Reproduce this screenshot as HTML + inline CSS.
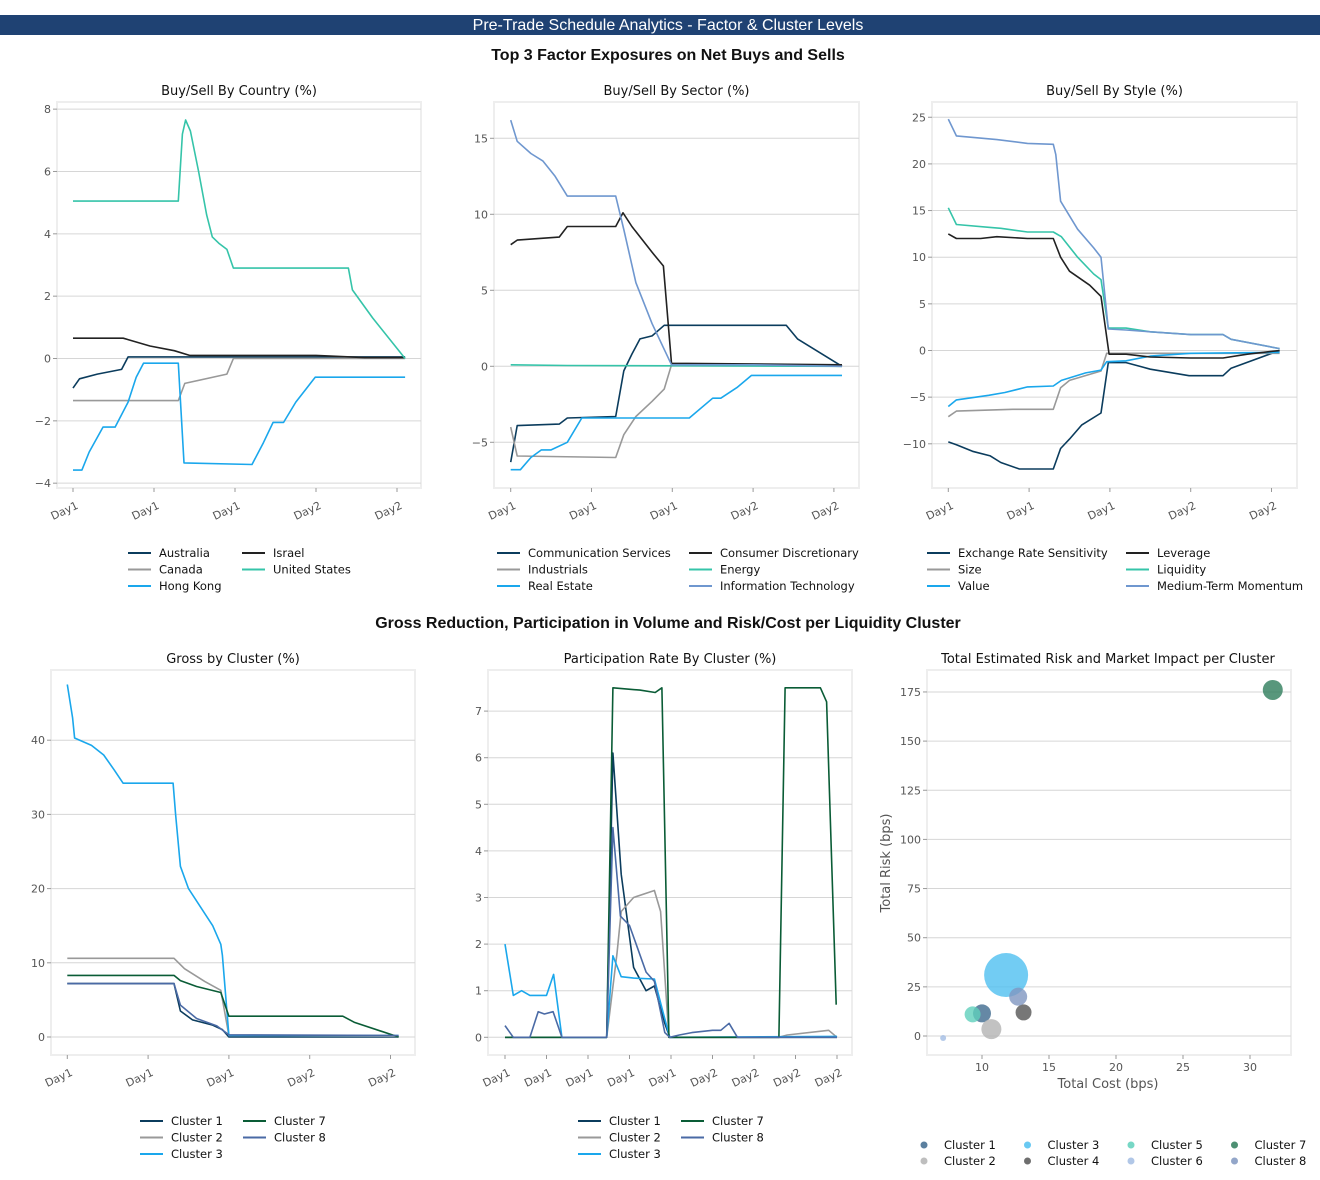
<!DOCTYPE html>
<html><head><meta charset="utf-8"><title>Pre-Trade Schedule Analytics</title>
<style>
html,body{margin:0;padding:0;background:#fff;}
svg{display:block;font-family:"DejaVu Sans","Liberation Sans",sans-serif;}
.tick{font-size:11px;fill:#555;}
.ttl{font-size:13px;fill:#111;}
.leg{font-size:11.5px;fill:#111;}
</style></head>
<body>
<svg id="root" width="1320" height="1180" viewBox="0 0 1320 1180" xmlns="http://www.w3.org/2000/svg">
<rect x="0" y="15" width="1320" height="20" fill="#1f4273"/>
<text x="668" y="30" text-anchor="middle" font-family="Liberation Sans, sans-serif" font-size="16" fill="#fff">Pre-Trade Schedule Analytics - Factor &amp; Cluster Levels</text>
<text x="668" y="60" text-anchor="middle" font-family="Liberation Sans, sans-serif" font-size="16" font-weight="bold" fill="#111">Top 3 Factor Exposures on Net Buys and Sells</text>
<text x="668" y="628" text-anchor="middle" font-family="Liberation Sans, sans-serif" font-size="16" font-weight="bold" fill="#111">Gross Reduction, Participation in Volume and Risk/Cost per Liquidity Cluster</text>
</svg>
<script>
// ===== Country =====
const countryTicks = ["Day1","Day1","Day1","Day2","Day2"];
const countryYTicks = [8,6,4,2,0,-2,-4];
const ctyAustralia_t = [0,0.08,0.3,0.6,0.68,4.1];
const ctyAustralia_v = [-0.95,-0.65,-0.5,-0.35,0.05,0.05];
const ctyCanada_t = [0,1.3,1.38,1.9,1.98,4.1];
const ctyCanada_v = [-1.35,-1.35,-0.8,-0.5,0,0];
const ctyHK_t = [0,0.11,0.2,0.37,0.52,0.6,0.68,0.78,0.87,1.3,1.37,2.21,2.35,2.47,2.6,2.75,2.9,2.99,4.1];
const ctyHK_v = [-3.58,-3.58,-3.0,-2.2,-2.2,-1.8,-1.4,-0.6,-0.15,-0.15,-3.35,-3.4,-2.7,-2.05,-2.05,-1.4,-0.9,-0.6,-0.6];
const ctyIsrael_t = [0,0.62,0.95,1.25,1.44,3.0,3.6,4.1];
const ctyIsrael_v = [0.65,0.65,0.4,0.25,0.1,0.1,0.03,0.03];
const ctyUS_t = [0,1.3,1.35,1.39,1.45,1.55,1.65,1.72,1.8,1.9,1.98,3.4,3.45,3.7,4.1];
const ctyUS_v = [5.05,5.05,7.2,7.65,7.3,6.0,4.6,3.9,3.7,3.5,2.9,2.9,2.2,1.3,0];
// ===== Sector =====
const sectorYTicks = [15,10,5,0,-5];
const secComm_t = [0,0.08,0.6,0.7,1.3,1.4,1.5,1.6,1.75,1.9,3.41,3.55,4.1];
const secComm_v = [-6.3,-3.9,-3.8,-3.4,-3.3,-0.3,0.8,1.8,2.0,2.7,2.7,1.8,0];
const secCons_t = [0,0.08,0.6,0.7,1.3,1.39,1.5,1.75,1.89,1.99,4.1];
const secCons_v = [8.0,8.3,8.5,9.2,9.2,10.1,9.2,7.5,6.6,0.2,0.1];
const secInd_t = [0,0.08,1.3,1.4,1.55,1.75,1.9,1.99,4.1];
const secInd_v = [-4.0,-5.9,-6.0,-4.5,-3.3,-2.3,-1.5,0.1,0];
const secEnergy_t = [0,0.7,4.1];
const secEnergy_v = [0.1,0.05,0];
const secRE_t = [0,0.12,0.25,0.38,0.5,0.7,0.88,2.21,2.5,2.6,2.8,2.98,4.1];
const secRE_v = [-6.8,-6.8,-6.0,-5.5,-5.5,-5.0,-3.4,-3.4,-2.1,-2.1,-1.4,-0.6,-0.6];
const secIT_t = [0,0.08,0.25,0.4,0.55,0.7,1.3,1.4,1.55,1.75,1.99,3.0,4.1];
const secIT_v = [16.2,14.8,14.0,13.5,12.5,11.2,11.2,9.0,5.5,2.8,0.1,0.1,0];
// ===== Style =====
const styleYTicks = [25,20,15,10,5,0,-5,-10];
const stERS_t = [0,0.1,0.3,0.52,0.65,0.88,1.3,1.39,1.5,1.65,1.89,1.98,2.2,2.5,2.98,3.4,3.5,4.1];
const stERS_v = [-9.8,-10.1,-10.8,-11.3,-12,-12.7,-12.7,-10.5,-9.5,-8.0,-6.7,-1.3,-1.3,-2.0,-2.7,-2.7,-1.9,0];
const stSize_t = [0,0.1,0.8,1.3,1.39,1.5,1.89,1.96,4.1];
const stSize_v = [-7.1,-6.5,-6.3,-6.3,-4.0,-3.2,-2.2,-0.3,-0.3];
const stValue_t = [0,0.1,0.5,0.7,0.98,1.3,1.4,1.7,1.89,1.96,2.2,2.5,3.0,4.1];
const stValue_v = [-6.0,-5.3,-4.8,-4.5,-3.9,-3.8,-3.2,-2.4,-2.1,-1.2,-1.1,-0.6,-0.3,-0.2];
const stLev_t = [0,0.1,0.4,0.6,0.98,1.3,1.39,1.5,1.75,1.89,1.99,2.2,2.5,3.0,3.4,3.7,4.1];
const stLev_v = [12.5,12.0,12.0,12.2,12.0,12.0,10.0,8.5,7.0,5.8,-0.4,-0.4,-0.7,-0.8,-0.8,-0.4,0];
const stLiq_t = [0,0.1,0.5,0.65,0.98,1.3,1.4,1.6,1.8,1.89,1.98,2.2,2.5,3.0,3.4,3.5,4.1];
const stLiq_v = [15.3,13.5,13.2,13.1,12.7,12.7,12.2,10.0,8.2,7.6,2.4,2.4,2.0,1.7,1.7,1.2,0.2];
const stMTM_t = [0,0.1,0.6,0.98,1.3,1.33,1.39,1.6,1.8,1.89,1.98,2.2,2.5,3.0,3.4,3.5,4.1];
const stMTM_v = [24.8,23.0,22.6,22.2,22.1,21.0,16.0,13.0,11.0,10.0,2.3,2.2,2.0,1.7,1.7,1.2,0.2];
// ===== Gross =====
const grossYTicks = [40,30,20,10,0];
const grC1_t = [0,1.32,1.4,1.55,1.8,1.92,2.0,4.1];
const grC1_v = [7.2,7.2,3.5,2.3,1.6,1.0,0,0];
const grC2_t = [0,1.32,1.45,1.7,1.9,2.0,4.1];
const grC2_v = [10.6,10.6,9.2,7.5,6.3,0.2,0.1];
const grC3_t = [0,0.066,0.09,0.3,0.45,0.58,0.69,1.31,1.34,1.4,1.5,1.8,1.9,1.92,2.0,4.1];
const grC3_v = [47.5,43,40.3,39.3,38,36,34.2,34.2,30,23,20,15,12.5,11,0.2,0.2];
const grC7_t = [0,1.32,1.4,1.6,1.9,2.0,3.41,3.55,4.1];
const grC7_v = [8.3,8.3,7.6,6.8,6.0,2.8,2.8,2.0,0];
const grC8_t = [0,1.32,1.4,1.6,1.85,2.0,4.1];
const grC8_v = [7.2,7.2,4.3,2.5,1.5,0.3,0.2];
// ===== Participation =====
const partTicks = ["Day1","Day1","Day1","Day1","Day1","Day2","Day2","Day2","Day2"];
const partYTicks = [7,6,5,4,3,2,1,0];
const ptC1_t = [0,2.45,2.6,2.8,3.1,3.4,3.6,3.85,3.97,8];
const ptC1_v = [0,0,6.1,3.5,1.5,1.0,1.1,0.3,0,0];
const ptC2_t = [0,2.45,2.7,2.8,3.1,3.6,3.75,3.95,6.6,6.8,7.8,8];
const ptC2_v = [0,0,1.8,2.7,3.0,3.15,2.7,0,0,0.05,0.15,0];
const ptC3_t = [0,0.2,0.4,0.6,1.0,1.17,1.37,2.45,2.6,2.8,3.1,3.6,3.82,3.97,8];
const ptC3_v = [2.0,0.9,1.0,0.9,0.9,1.35,0,0,1.75,1.3,1.27,1.25,0.5,0,0.02];
const ptC7_t = [0,2.45,2.6,3.25,3.62,3.78,3.95,6.6,6.75,7.6,7.75,7.98];
const ptC7_v = [0,0,7.5,7.45,7.4,7.5,0,0,7.5,7.5,7.2,0.7];
const ptC8_t = [0,0.2,0.6,0.8,0.95,1.16,1.37,2.45,2.6,2.78,3.0,3.4,3.6,3.85,3.97,4.2,4.5,5.0,5.2,5.4,5.6,8];
const ptC8_v = [0.25,0,0,0.55,0.5,0.55,0,0,4.5,2.6,2.4,1.4,1.2,0.1,0,0.05,0.1,0.15,0.15,0.3,0,0];
// ===== Scatter =====
const scLabels = ["Cluster 1","Cluster 2","Cluster 3","Cluster 4","Cluster 5","Cluster 6","Cluster 7","Cluster 8"];
const scCost = [10.0,10.7,11.8,13.1,9.3,7.1,31.7,12.7];
const scRisk = [11.5,3.5,31,12,11,-1,176,20];
const scSize = [9,10,22,8,8,3,10,9];
const scXTicks = [10,15,20,25,30];
const scYTicks = [175,150,125,100,75,50,25,0];

const NS = "http://www.w3.org/2000/svg";
const root = document.getElementById("root");
function mk(tag, attrs, parent, text){
  const e = document.createElementNS(NS, tag);
  for (const k in attrs) e.setAttribute(k, attrs[k]);
  if (text !== undefined) e.textContent = text;
  (parent || root).appendChild(e);
  return e;
}
const COL = {navy:"#0b3c5d", gray:"#999999", lblue:"#1aa7ec", black:"#222222", teal:"#35c4a9", itblue:"#6f97cf", green:"#0a5c36", c8:"#4a6aa5"};

function lineChart(cfg, series, legend){
  const g = mk("g", {});
  
  
  const fr = mk("rect", {x:cfg.fx, y:cfg.fy, width:cfg.fw, height:cfg.fh, fill:"#fff", stroke:"#eee", "stroke-width":2}, g);
  
  
  const t = mk("text", {x:cfg.fx+cfg.fw/2, y:cfg.fy-7, "text-anchor":"middle", class:"ttl"}, g, cfg.title);
  
  
  const X = v => cfg.x0 + v*cfg.step;
  const Y = v => cfg.y0 - v*cfg.ppu;
  cfg.yticks.forEach(v=>{
    mk("line", {x1:cfg.fx, x2:cfg.fx+cfg.fw, y1:Y(v), y2:Y(v), stroke:"#d6d6d6", "stroke-width":1}, g);
    mk("line", {x1:cfg.fx-4, x2:cfg.fx, y1:Y(v), y2:Y(v), stroke:"#999", "stroke-width":1}, g);
    const lb = mk("text", {x:cfg.fx-6, y:Y(v)+4, "text-anchor":"end", class:"tick"}, g, String(v).replace("-","\u2212"));
    
    
  });
  cfg.xticks.forEach((s,i)=>{
    const x = X(i);
    mk("line", {x1:x, x2:x, y1:cfg.fy+cfg.fh, y2:cfg.fy+cfg.fh+4, stroke:"#999", "stroke-width":1}, g);
    const lb = mk("text", {x:x+6, y:cfg.fy+cfg.fh+20, "text-anchor":"end", class:"tick", transform:`rotate(-25 ${x+6} ${cfg.fy+cfg.fh+20})`}, g, s);
    
    
  });
  series.forEach(s=>{
    const d = s.t.map((tv,i)=>(i?"L":"M")+X(tv).toFixed(1)+","+Y(s.v[i]).toFixed(1)).join(" ");
    const p = mk("path", {d:d, fill:"none", stroke:s.c, "stroke-width":1.6, "stroke-linejoin":"round"}, g);
    
    
  });
  legend.items.forEach((it,i)=>{
    const col = i < legend.rows ? 0 : 1;
    const row = col ? i - legend.rows : i;
    const sx = legend.cx[col], y = legend.y + row*16.5;
    const lg = mk("g", {}, g);
    
    
    mk("line", {x1:sx, x2:sx+23, y1:y, y2:y, stroke:it.c, "stroke-width":2}, lg);
    mk("text", {x:sx+31, y:y+4, class:"leg"}, lg, it.n);
  });
}

const dayTicks = countryTicks;
// Country
{
  const S = [
    {n:"Australia",t:ctyAustralia_t,v:ctyAustralia_v,c:COL.navy},
    {n:"Canada",t:ctyCanada_t,v:ctyCanada_v,c:COL.gray},
    {n:"Hong Kong",t:ctyHK_t,v:ctyHK_v,c:COL.lblue},
    {n:"Israel",t:ctyIsrael_t,v:ctyIsrael_v,c:COL.black},
    {n:"United States",t:ctyUS_t,v:ctyUS_v,c:COL.teal}];
  lineChart({name:"country-chart",title:"Buy/Sell By Country (%)",fx:57,fy:102,fw:364,fh:386,x0:73,step:81,y0:358.5,ppu:31.17,yticks:countryYTicks,xticks:dayTicks},
    S.slice(0), {items:S, rows:3, cx:[128,242], y:553});
}
// Sector
{
  const S = [
    {n:"Communication Services",t:secComm_t,v:secComm_v,c:COL.navy},
    {n:"Industrials",t:secInd_t,v:secInd_v,c:COL.gray},
    {n:"Real Estate",t:secRE_t,v:secRE_v,c:COL.lblue},
    {n:"Consumer Discretionary",t:secCons_t,v:secCons_v,c:COL.black},
    {n:"Energy",t:secEnergy_t,v:secEnergy_v,c:COL.teal},
    {n:"Information Technology",t:secIT_t,v:secIT_v,c:COL.itblue}];
  lineChart({name:"sector-chart",title:"Buy/Sell By Sector (%)",fx:494,fy:102,fw:365,fh:386,x0:510.7,step:80.8,y0:366.3,ppu:15.2,yticks:sectorYTicks,xticks:dayTicks},
    S, {items:S, rows:3, cx:[497,689], y:553});
}
// Style
{
  const S = [
    {n:"Exchange Rate Sensitivity",t:stERS_t,v:stERS_v,c:COL.navy},
    {n:"Size",t:stSize_t,v:stSize_v,c:COL.gray},
    {n:"Value",t:stValue_t,v:stValue_v,c:COL.lblue},
    {n:"Leverage",t:stLev_t,v:stLev_v,c:COL.black},
    {n:"Liquidity",t:stLiq_t,v:stLiq_v,c:COL.teal},
    {n:"Medium-Term Momentum",t:stMTM_t,v:stMTM_v,c:COL.itblue}];
  lineChart({name:"style-chart",title:"Buy/Sell By Style (%)",fx:932,fy:102,fw:365,fh:386,x0:948.3,step:80.8,y0:350.5,ppu:9.33,yticks:styleYTicks,xticks:dayTicks},
    S, {items:S, rows:3, cx:[927,1126], y:553});
}
// Gross
{
  const S = [
    {n:"Cluster 1",t:grC1_t,v:grC1_v,c:COL.navy},
    {n:"Cluster 2",t:grC2_t,v:grC2_v,c:COL.gray},
    {n:"Cluster 3",t:grC3_t,v:grC3_v,c:COL.lblue},
    {n:"Cluster 7",t:grC7_t,v:grC7_v,c:COL.green},
    {n:"Cluster 8",t:grC8_t,v:grC8_v,c:COL.c8}];
  lineChart({name:"gross-chart",title:"Gross by Cluster (%)",fx:51,fy:670,fw:364,fh:385,x0:67.3,step:80.8,y0:1037,ppu:7.42,yticks:grossYTicks,xticks:dayTicks},
    S, {items:S, rows:3, cx:[140,243], y:1121});
}
// Participation
{
  const S = [
    {n:"Cluster 1",t:ptC1_t,v:ptC1_v,c:COL.navy},
    {n:"Cluster 2",t:ptC2_t,v:ptC2_v,c:COL.gray},
    {n:"Cluster 3",t:ptC3_t,v:ptC3_v,c:COL.lblue},
    {n:"Cluster 7",t:ptC7_t,v:ptC7_v,c:COL.green},
    {n:"Cluster 8",t:ptC8_t,v:ptC8_v,c:COL.c8}];
  lineChart({name:"participation-chart",title:"Participation Rate By Cluster (%)",fx:488,fy:670,fw:364,fh:385,x0:505,step:41.5,y0:1037.3,ppu:46.6,yticks:partYTicks,xticks:partTicks},
    S, {items:S, rows:3, cx:[578,681], y:1121});
}
// Scatter
{
  const scCols = ["#3e6a8e","#b3b3b3","#4fbff0","#555555","#5fd0bb","#a3bde3","#2e7d5b","#8096c0"];
  const g = mk("g", {});
  
  
  const fx=927, fy=670, fw=364, fh=385;
  mk("rect", {x:fx,y:fy,width:fw,height:fh,fill:"#fff",stroke:"#eee","stroke-width":2}, g);
  const st = mk("text", {x:1108, y:fy-7, "text-anchor":"middle", class:"ttl"}, g, "Total Estimated Risk and Market Impact per Cluster");
  
  
  const X = v => 982 + (v-10)*13.4;
  const Y = v => 1036 - v*1.966;
  scYTicks.forEach(v=>{
    mk("line", {x1:fx,x2:fx+fw,y1:Y(v),y2:Y(v),stroke:"#d6d6d6","stroke-width":1}, g);
    mk("line", {x1:fx-4,x2:fx,y1:Y(v),y2:Y(v),stroke:"#999"}, g);
    const lb = mk("text", {x:fx-6,y:Y(v)+4,"text-anchor":"end",class:"tick"}, g, String(v));
    
    
  });
  scXTicks.forEach(v=>{
    mk("line", {x1:X(v),x2:X(v),y1:fy+fh,y2:fy+fh+4,stroke:"#999"}, g);
    const lb = mk("text", {x:X(v),y:fy+fh+16,"text-anchor":"middle",class:"tick"}, g, String(v));
    
    
  });
  const xt = mk("text", {x:1108,y:1088,"text-anchor":"middle","font-size":"13",fill:"#555"}, g, "Total Cost (bps)");
  
  
  const yt = mk("text", {x:890,y:863,"text-anchor":"middle","font-size":"13",fill:"#555",transform:"rotate(-90 890 863)"}, g, "Total Risk (bps)");
  
  
  scLabels.forEach((lab,i)=>{
    const c = mk("circle", {cx:X(scCost[i]),cy:Y(scRisk[i]),r:scSize[i],fill:scCols[i],"fill-opacity":0.8}, g);
    
    
    const col = Math.floor(i/2), row = i%2;
    const lx = 924 + col*103.5, ly = 1145 + row*16;
    const lg = mk("g", {}, g);
    
    
    mk("circle", {cx:lx,cy:ly,r:3.5,fill:scCols[i],"fill-opacity":0.85}, lg);
    mk("text", {x:lx+20,y:ly+4,class:"leg"}, lg, lab);
  });
}
</script>
</body></html>
